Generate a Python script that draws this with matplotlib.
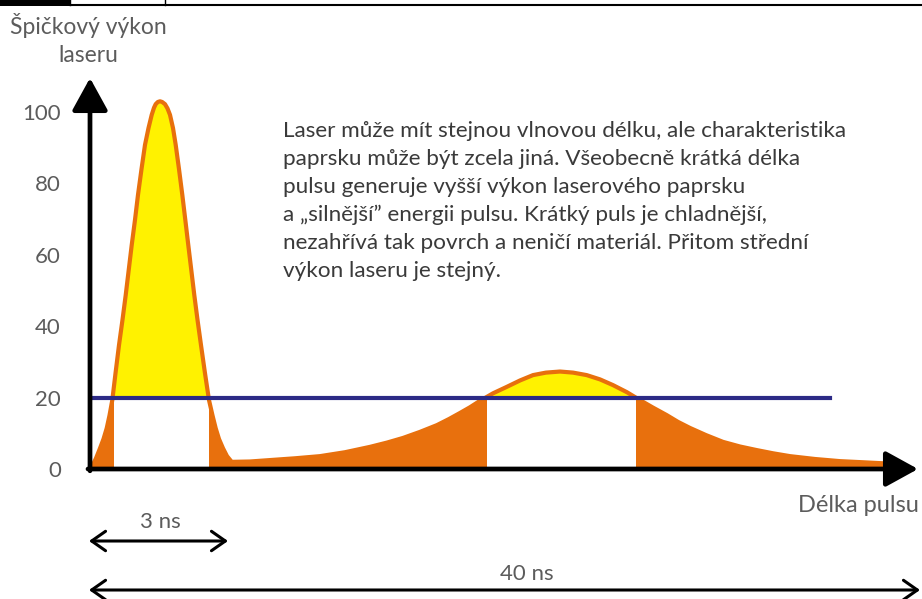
import matplotlib
matplotlib.use("Agg")
import matplotlib.pyplot as plt
from matplotlib.patches import Rectangle
from matplotlib.lines import Line2D
import numpy as np

# pulse profile: position along time axis (px from origin), peak power
t = [1.7, 6, 10, 13.5, 16.7, 19.5, 22.3, 25.5, 29, 32.5, 35.7, 38.7, 41.7, 45, 48,
     51.5, 55, 58.5, 61.7, 64, 65.7, 67.8, 70, 72.2, 75, 77.5, 80, 83, 85.7, 89,
     92.3, 95.3, 98.3, 101.3, 104.3, 107.5, 111, 115, 119, 122.5, 125.7, 129, 133,
     137, 141.7, 160, 180, 205, 230, 255, 280, 297, 313, 330, 347, 359, 370, 380,
     390, 403, 416.7, 430, 443, 456, 470, 483, 496.7, 510, 523, 537, 550, 563,
     576.7, 588, 600, 616, 633, 650, 666.7, 683, 700, 725, 750, 772, 793]
power = [0.5, 3, 5.8, 8.4, 11.4, 15, 19.3, 26.8, 34.7, 41.8, 48.7, 55.7, 62.7, 69.8,
         76.8, 84, 90.8, 95.5, 99.2, 101.2, 102.2, 102.8, 103, 102.8, 102.2, 101,
         99.2, 95.5, 90.8, 84, 76.8, 69.8, 62.7, 55.7, 48.7, 41.8, 34.7, 26.8, 19.3,
         15, 11.4, 8.4, 5.8, 3.6, 2.0, 2.1, 2.5, 3.0, 3.6, 4.7, 6.2, 7.4, 8.7, 10.4,
         12.3, 14, 15.7, 17.3, 19.1, 21.2, 23, 24.8, 26.3, 27.0, 27.3, 27.0, 26.3,
         25.1, 23.5, 21.5, 19.3, 17.2, 15.1, 13.2, 11.5, 9.5, 7.6, 6.3, 5.3, 4.4, 3.6,
         2.8, 2.2, 1.9, 1.6]

threshold = 20          # mean power line
threshold_end = 740
y_ticks = [0, 20, 40, 60, 80, 100]

ORANGE = "#E8700D"
YELLOW = "#FFF200"
NAVY = "#2C2A86"
GREY = "#5C5C5C"
TEXT = "#3A3A3A"
FONT = "Lato"

note = ("Laser může mít stejnou vlnovou délku, ale charakteristika\n"
        "paprsku může být zcela jiná. Všeobecně krátká délka\n"
        "pulsu generuje vyšší výkon laserového paprsku\n"
        "a „silnější” energii pulsu. Krátký puls je chladnější,\n"
        "nezahřívá tak povrch a neničí materiál. Přitom střední\n"
        "výkon laseru je stejný.")

W, H = 922, 599


def fp(px, py):
    """pixel position in the picture -> figure fraction"""
    return px / W, 1 - py / H


def crossings(x, y, level):
    """spans where y is above level, edges by linear interpolation"""
    x, y = np.asarray(x, float), np.asarray(y, float)
    spans, start = [], None
    for i in range(1, len(x)):
        a, b = y[i - 1] - level, y[i] - level
        if a < 0 <= b:
            start = x[i - 1] + (x[i] - x[i - 1]) * (-a) / (b - a)
        elif a >= 0 > b and start is not None:
            spans.append((start, x[i - 1] + (x[i] - x[i - 1]) * a / (a - b)))
            start = None
    return spans


fig = plt.figure(figsize=(W / 100, H / 100), dpi=100)
plt.rcParams["font.family"] = [FONT, "DejaVu Sans"]

# plot area: origin at (90, 469) px, arrow tips at y=78 and x=918
ax = fig.add_axes([90 / W, (H - 469) / H, 828 / W, 391 / H])
ax.set_xlim(0, 828)
ax.set_ylim(0, 391 / 3.57)
for s in ax.spines.values():
    s.set_visible(False)
ax.set_xticks([])
ax.set_yticks(y_ticks)
ax.set_yticklabels([str(v) for v in y_ticks], fontsize=16, color=GREY, family=FONT)
ax.tick_params(axis="y", length=0, pad=21)

p = np.asarray(power)
ax.fill_between(t, 0, p, color=ORANGE, lw=0)
for a, b in crossings(t, p, threshold):
    ax.fill_between([a + 1, b], 0, threshold, color="white", lw=0)
ax.fill_between(t, threshold, p, where=p >= threshold, interpolate=True,
                color=YELLOW, lw=0)
ax.plot(t, p, color=ORANGE, lw=3, solid_capstyle="butt", solid_joinstyle="round")
ax.plot([2, threshold_end], [threshold, threshold], color=NAVY, lw=3)

# axes with filled arrow heads
head = dict(arrowstyle="-|>,head_length=0.4,head_width=0.22", mutation_scale=50,
            color="black", lw=3.4, shrinkA=0, shrinkB=0)
ax.annotate("", xy=(0, 391 / 3.57), xytext=(0, -0.5), xycoords="data",
            arrowprops=head, annotation_clip=False)
ax.annotate("", xy=(828, 0), xytext=(-2, 0), xycoords="data",
            arrowprops=head, annotation_clip=False)

# labels
fig.text(*fp(88, 25), "Špičkový výkon", ha="center", va="center", fontsize=16.5, color=GREY)
fig.text(*fp(88, 56), "laseru", ha="center", va="center", fontsize=16.5, color=GREY)
fig.text(*fp(919, 505), "Délka pulsu", ha="right", va="center", fontsize=17, color=GREY)
fig.text(*fp(283, 201), note, ha="left", va="center", fontsize=16.2, color=TEXT,
         linespacing=1.5)

# duration spans
span = dict(arrowstyle="<->,head_length=0.5,head_width=0.35", mutation_scale=20,
            color="black", lw=2.2, shrinkA=0, shrinkB=0)
ax.annotate("", xy=(228, H - 541), xytext=(89, H - 541), xycoords="figure pixels",
            textcoords="figure pixels", arrowprops=span)
ax.annotate("", xy=(920, H - 590), xytext=(89, H - 590), xycoords="figure pixels",
            textcoords="figure pixels", arrowprops=span)
fig.text(*fp(160, 522), "3 ns", ha="center", va="center", fontsize=16, color=GREY)
fig.text(*fp(527, 574), "40 ns", ha="center", va="center", fontsize=16, color=GREY)

# cropped frame at the very top of the picture
fig.add_artist(Rectangle(fp(0, 6), 70 / W, 6 / H, transform=fig.transFigure,
                         color="black", lw=0))
fig.add_artist(Line2D([70 / W, 1], [1 - 5 / H] * 2, transform=fig.transFigure,
                      color="black", lw=1.5))
for xv in (70, 165):
    fig.add_artist(Line2D([xv / W] * 2, [1, 1 - 5 / H], transform=fig.transFigure,
                          color="black", lw=1))

fig.savefig("out.png", dpi=100)
